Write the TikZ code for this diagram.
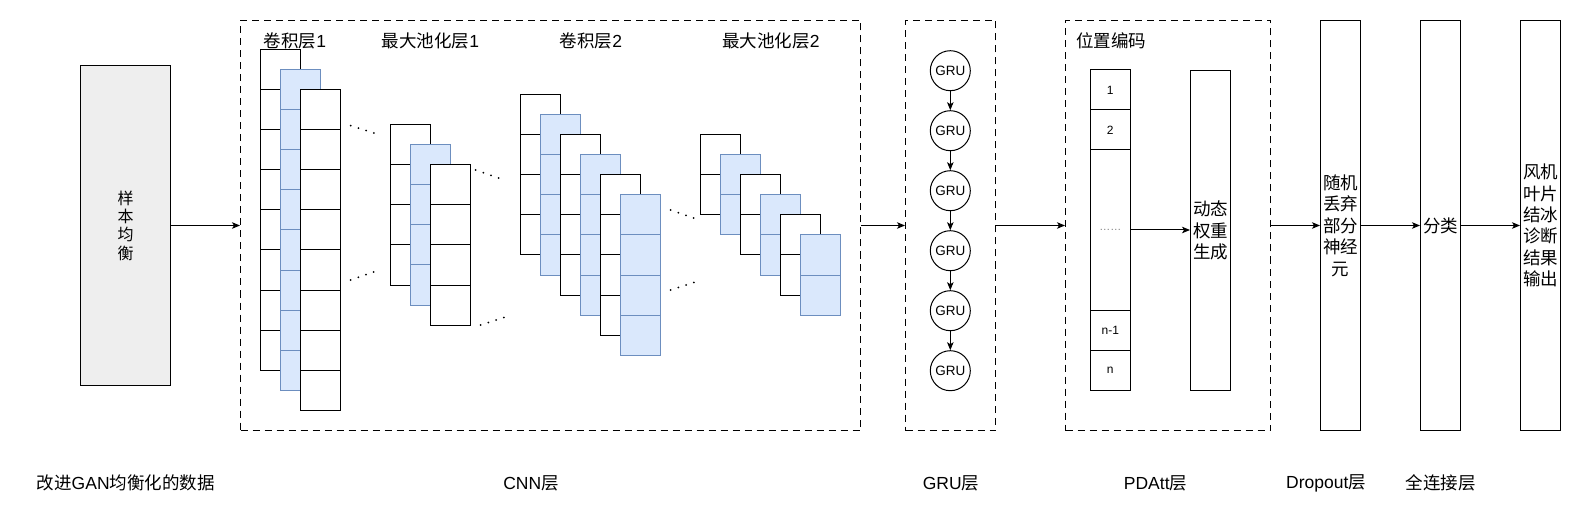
\documentclass[tikz,border=0pt]{standalone}
\usepackage{fontspec}
\setmainfont{Liberation Sans}
\newfontfamily\cjk{Noto Sans CJK SC}
\usetikzlibrary{arrows.meta}
\definecolor{bluefill}{HTML}{DAE8FC}
\definecolor{bluedraw}{HTML}{6C8EBF}
\definecolor{greyfill}{HTML}{EEEEEE}
\newcommand\lbl{\fontsize{17.5}{21.5}\selectfont}
\newcommand\cellstack[5]{%
  \foreach \k in {1,...,#3}{
    \draw[line width=1pt, fill=#4, draw=#5] ({#1},{#2+40*(\k-1)}) rectangle ++(40,40);
  }}
\begin{document}
\begin{tikzpicture}[x=1pt,y=-1pt, line width=1pt,
  box/.style={draw, rectangle, inner sep=0pt, align=center, font=\cjk\lbl, anchor=north west},
  dbox/.style={draw, dash pattern=on 7pt off 5pt, rectangle, inner sep=0pt, anchor=north west},
  arr/.style={-{Stealth[length=8pt,width=6.5pt,inset=2pt]}},
  grunode/.style={draw, circle, minimum size=40pt, inner sep=0pt, font=\fontsize{13.5}{16}\selectfont},
  pcell/.style={draw, rectangle, minimum width=40pt, inner sep=0pt, font=\fontsize{12}{14}\selectfont},
  lab/.style={font=\lbl, inner sep=0pt},
  dotline/.style={line width=2pt, line cap=round, dash pattern=on 0pt off 8.1pt}
]
\useasboundingbox (0,0) rectangle (1581,521);

% sample balance box
\node[box, fill=greyfill, minimum width=90pt, minimum height=320pt,
      font=\cjk\fontsize{16}{18.3}\selectfont] (sample) at (80,65) {样\\本\\均\\衡};

% dashed groups
\node[dbox, minimum width=620pt, minimum height=410pt] (cnn) at (240,20) {};
\node[dbox, minimum width=90pt, minimum height=410pt] (gru) at (905,20) {};
\node[dbox, minimum width=205pt, minimum height=410pt] (pd) at (1065,20) {};

% CNN stacks
\cellstack{260}{50}{8}{white}{black}
\cellstack{280}{70}{8}{bluefill}{bluedraw}
\cellstack{300}{90}{8}{white}{black}

\cellstack{390}{125}{4}{white}{black}
\cellstack{410}{145}{4}{bluefill}{bluedraw}
\cellstack{430}{165}{4}{white}{black}

\cellstack{520}{95}{4}{white}{black}
\cellstack{540}{115}{4}{bluefill}{bluedraw}
\cellstack{560}{135}{4}{white}{black}
\cellstack{580}{155}{4}{bluefill}{bluedraw}
\cellstack{600}{175}{4}{white}{black}
\cellstack{620}{195}{4}{bluefill}{bluedraw}

\cellstack{700}{135}{2}{white}{black}
\cellstack{720}{155}{2}{bluefill}{bluedraw}
\cellstack{740}{175}{2}{white}{black}
\cellstack{760}{195}{2}{bluefill}{bluedraw}
\cellstack{780}{215}{2}{white}{black}
\cellstack{800}{235}{2}{bluefill}{bluedraw}

% dots between layers
\draw[dotline] (350.7,125.7) -- (375,133.3);
\draw[dotline] (350.7,280) -- (375,271.5);
\draw[dotline] (475.7,170) -- (500,178.5);
\draw[dotline] (480.7,325) -- (505,317.2);
\draw[dotline] (670.7,210) -- (695,218.5);
\draw[dotline] (670.7,290) -- (695,282.1);

% CNN labels
\node[lab] (l1) at (295,41) {{\cjk 卷积层}1};
\node[lab] (l2) at (430.5,41) {{\cjk 最大池化层}1};
\node[lab] (l3) at (591,41) {{\cjk 卷积层}2};
\node[lab] (l4) at (771,41) {{\cjk 最大池化层}2};

% GRU chain
\foreach \i/\yy in {1/70.7,2/130.7,3/190.7,4/250.7,5/310.7,6/370.7}{
  \node[grunode] (g\i) at (950.3,\yy) {GRU};
}
\foreach \i/\j in {1/2,2/3,3/4,4/5,5/6}{
  \draw[arr] (g\i) -- (g\j);
}

% PDAtt
\node[lab, font=\cjk\lbl] (pos) at (1111,41) {位置编码};
\node[pcell, minimum height=40pt] (p1) at (1110.3,90) {1};
\node[pcell, minimum height=40pt] (p2) at (1110.3,130) {2};
\node[pcell, minimum height=160pt, font=\fontsize{11}{13}\selectfont, text=gray] (pm) at (1110.3,230) {……};
\node[pcell, minimum height=40pt] (pn1) at (1110.3,330) {n-1};
\node[pcell, minimum height=40pt] (pn) at (1110.3,370) {n};
\node[box, minimum width=40pt, minimum height=320pt] (dyn) at (1190,70) {动态\\权重\\生成};
\draw[arr] (pm.east) -- (dyn.west |- pm.east);

% right boxes
\node[box, minimum width=40pt, minimum height=410pt] (drop) at (1320,20) {随机\\丢弃\\部分\\神经\\元};
\node[box, minimum width=40pt, minimum height=410pt] (cls) at (1420,20) {分类};
\node[box, minimum width=40pt, minimum height=410pt, font=\cjk\fontsize{17.5}{21.3}\selectfont] (out) at (1520,20) {风机\\叶片\\结冰\\诊断\\结果\\输出};

% main flow arrows
\draw[arr] (sample.east) -- (cnn.west);
\draw[arr] (cnn.east) -- (gru.west);
\draw[arr] (gru.east) -- (pd.west);
\draw[arr] (pd.east) -- (drop.west);
\draw[arr] (drop.east) -- (cls.west);
\draw[arr] (cls.east) -- (out.west);

% bottom labels
\node[lab] (b1) at (125.7,483) {{\cjk 改进}GAN{\cjk 均衡化的数据}};
\node[lab] (b2) at (531,483) {CNN{\cjk 层}};
\node[lab] (b3) at (951,483) {GRU{\cjk 层}};
\node[lab] (b4) at (1155.5,483) {PDAtt{\cjk 层}};
\node[lab] (b5) at (1326,483) {Dropout{\cjk 层}};
\node[lab] (b6) at (1440.6,483) {{\cjk 全连接层}};
\end{tikzpicture}
\end{document}
